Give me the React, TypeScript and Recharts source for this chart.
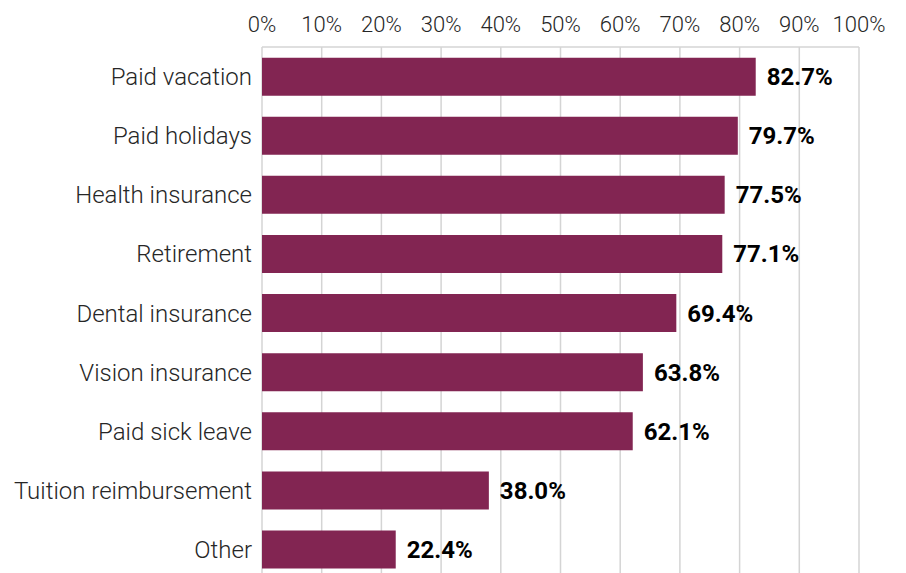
import React from "react";
import { BarChart, Bar, XAxis, YAxis, CartesianGrid, LabelList } from "recharts";

const benefits = [
  "Paid vacation",
  "Paid holidays",
  "Health insurance",
  "Retirement",
  "Dental insurance",
  "Vision insurance",
  "Paid sick leave",
  "Tuition reimbursement",
  "Other",
];
const shares = [82.7, 79.7, 77.5, 77.1, 69.4, 63.8, 62.1, 38.0, 22.4];
const ticks = [0, 10, 20, 30, 40, 50, 60, 70, 80, 90, 100];

const data = benefits.map((name, i) => ({ name, share: shares[i] }));

const font = "Roboto, 'Noto Sans', sans-serif";

export default function App() {
  return (
    <div style={{ position: "absolute", left: 0, top: 0, width: 906, height: 573, overflow: "hidden", background: "#fff" }}>
      <BarChart
        width={906}
        height={579}
        data={data}
        layout="vertical"
        margin={{ top: 0, right: 47, bottom: 0, left: 0 }}
        barCategoryGap="18%"
      >
        <CartesianGrid horizontal={false} stroke="#d4d4d4" strokeWidth={1.5} />
        <XAxis
          type="number"
          orientation="top"
          domain={[0, 100]}
          ticks={ticks}
          height={47}
          tickFormatter={(v) => `${v}%`}
          tickLine={false}
          tickSize={0}
          tickMargin={15}
          axisLine={{ stroke: "#d4d4d4", strokeWidth: 1.5 }}
          tick={{ fontSize: 22, fontFamily: font, fontWeight: 300, fill: "#262626" }}
          interval={0}
        />
        <YAxis
          type="category"
          dataKey="name"
          width={262}
          tickLine={false}
          axisLine={false}
          tickSize={0}
          tickMargin={10}
          tick={{ fontSize: 24, fontFamily: font, fontWeight: 300, fill: "#262626" }}
          interval={0}
        />
        <Bar dataKey="share" fill="#822552" isAnimationActive={false}>
          <LabelList
            dataKey="share"
            position="right"
            offset={11}
            formatter={(v: any) => `${Number(v).toFixed(1)}%`}
            style={{ fontSize: 24, fontFamily: font, fontWeight: 700, fill: "#000" }}
          />
        </Bar>
      </BarChart>
    </div>
  );
}
